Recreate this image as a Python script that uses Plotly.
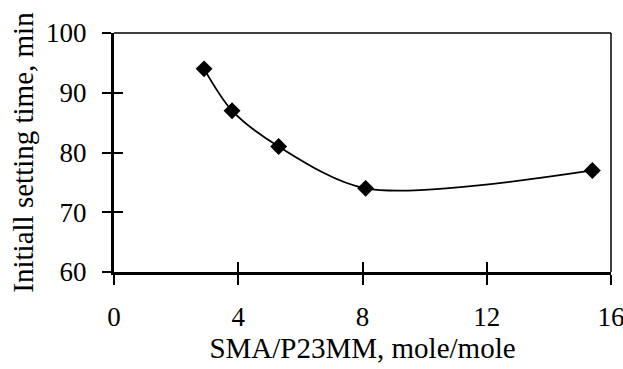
import plotly.graph_objects as go

x_vals = [2.9, 3.8, 5.3, 8.1, 15.4]
y_vals = [94, 87, 81, 74, 77]
x_ticks = [0, 4, 8, 12, 16]
y_ticks = [60, 70, 80, 90, 100]

FONT = "Liberation Serif, Times New Roman, serif"

fig = go.Figure()
fig.add_trace(go.Scatter(
    x=x_vals, y=y_vals, mode="lines+markers",
    line=dict(color="black", width=1.8, shape="spline", smoothing=0.85),
    marker=dict(symbol="diamond", size=13, color="black"),
    showlegend=False, hoverinfo="skip",
))
# invisible trace to anchor the inside-tick overlay axes
fig.add_trace(go.Scatter(x=[x_ticks[0]], y=[y_ticks[0]], xaxis="x2", yaxis="y2",
                         mode="markers", marker=dict(opacity=0), showlegend=False,
                         hoverinfo="skip"))

fig.update_layout(
    template="none",
    width=623, height=369,
    margin=dict(l=114, r=12, t=33, b=97, autoexpand=False),
    paper_bgcolor="white", plot_bgcolor="white",
    font=dict(family=FONT, size=27, color="black"),
    xaxis=dict(
        range=[0, 16], tickvals=x_ticks, ticktext=[str(v) for v in x_ticks],
        showgrid=False, zeroline=False, showline=True, linecolor="black", linewidth=3,
        ticks="outside", ticklen=10, tickwidth=2, tickcolor="black", automargin=False,
        ticklabelstandoff=9, ticklabeloverflow="allow",
        title=dict(text="SMA/P23MM, mole/mole", font=dict(family=FONT, size=29), standoff=0),
        tickfont=dict(family=FONT, size=27),
    ),
    yaxis=dict(
        range=[60, 100], tickvals=y_ticks, ticktext=[str(v) for v in y_ticks],
        showgrid=False, zeroline=False, showline=True, linecolor="black", linewidth=3,
        ticks="outside", ticklen=9, tickwidth=2, tickcolor="black", automargin=False,
        ticklabelstandoff=10, ticklabeloverflow="allow",
        title=dict(text="Initiall setting time, min", font=dict(family=FONT, size=29), standoff=4),
        tickfont=dict(family=FONT, size=27),
    ),
    xaxis2=dict(
        range=[0, 16], tickvals=x_ticks, overlaying="x", anchor="y2", side="bottom",
        showgrid=False, zeroline=False, showline=False, showticklabels=False, automargin=False,
        ticks="inside", ticklen=10, tickwidth=2, tickcolor="black",
    ),
    yaxis2=dict(
        range=[60, 100], tickvals=y_ticks, overlaying="y", anchor="x2", side="left",
        showgrid=False, zeroline=False, showline=False, showticklabels=False, automargin=False,
        ticks="inside", ticklen=9, tickwidth=2, tickcolor="black",
    ),
    shapes=[
        dict(type="line", xref="paper", yref="paper", x0=0, x1=1, y0=1, y1=1,
             line=dict(color="black", width=1.5)),
        dict(type="line", xref="paper", yref="paper", x0=1, x1=1, y0=0, y1=1,
             line=dict(color="black", width=1.5)),
    ],
)

fig.write_html("out.html", config={"displayModeBar": False},
               post_script="document.body.style.margin='0';document.body.style.overflow='hidden';")
